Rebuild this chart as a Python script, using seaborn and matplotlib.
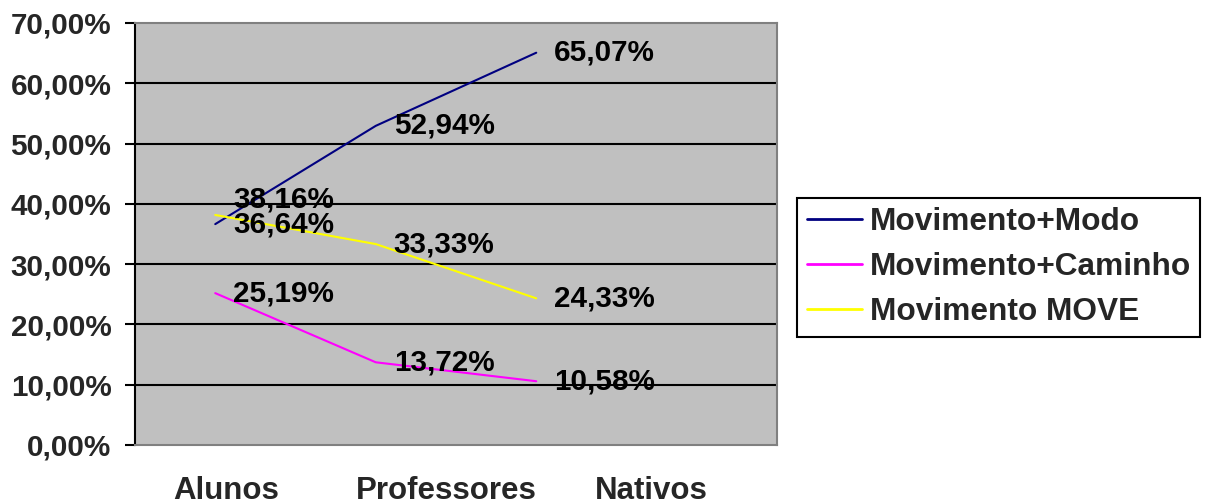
import matplotlib
matplotlib.use("Agg")
import matplotlib.pyplot as plt
import seaborn as sns
import pandas as pd

# Data
groups = ["Alunos", "Professores", "Nativos"]
series_names = ["Movimento+Modo", "Movimento+Caminho", "Movimento MOVE"]
modo = [36.64, 52.94, 65.07]
caminho = [25.19, 13.72, 10.58]
move = [38.16, 33.33, 24.33]
y_ticks = [0, 10, 20, 30, 40, 50, 60, 70]

colors = ["#000080", "#FF00FF", "#FFFF00"]

sns.set_theme(style="white")
plt.rcParams["font.family"] = ["Liberation Sans", "DejaVu Sans"]
plt.rcParams["font.weight"] = "bold"

rows = []
for name, vals in zip(series_names, [modo, caminho, move]):
    for i, v in enumerate(vals):
        rows.append({"pos": i, "group": groups[i], "serie": name, "valor": v})
df = pd.DataFrame(rows)

fig = plt.figure(figsize=(12.05, 4.99), dpi=100)
ax = fig.add_axes([135 / 1205, 54 / 499, 642 / 1205, 422 / 499])
ax.set_facecolor("#C0C0C0")

for yv in y_ticks[1:-1]:
    ax.axhline(yv, color="black", lw=1.5, zorder=1)

sns.lineplot(data=df, x="pos", y="valor", hue="serie", palette=colors,
             hue_order=series_names, lw=1.5, ax=ax, legend=False, zorder=3)

# value labels to the right of each point
for name, vals in zip(series_names, [modo, caminho, move]):
    for i, v in enumerate(vals):
        dy = 11 if (name == "Movimento MOVE" and i == 0) else 0
        ax.annotate(f"{v:.2f}%".replace(".", ","), (i, v),
                    xytext=(13, dy), textcoords="offset points",
                    ha="left", va="center", fontsize=21.3, fontweight="bold",
                    color="black", zorder=4)

ax.set_xlim(-0.5, 3.5)
ax.set_ylim(0, 70)
ax.set_yticks(y_ticks)
ax.set_yticklabels([f"{t:.2f}%".replace(".", ",") for t in y_ticks],
                   fontsize=21.3, fontweight="bold")
ax.set_xticks([0.07, 1.44, 2.72])
ax.set_xticklabels(groups, fontsize=22.5, fontweight="bold")
ax.tick_params(axis="x", length=0, pad=22)
ax.tick_params(axis="y", length=7, width=1.5, color="black", pad=10, left=True)
ax.set_xlabel("")
ax.set_ylabel("")

for side in ["top", "right", "bottom"]:
    ax.spines[side].set_color("#808080")
    ax.spines[side].set_linewidth(1.5)
ax.spines["left"].set_color("black")
ax.spines["left"].set_linewidth(1.5)

handles = [plt.Line2D([], [], color=c, lw=2) for c in colors]
leg = fig.legend(handles, series_names, loc="upper left",
                 bbox_to_anchor=(797 / 1205, 1 - 198 / 499),
                 prop={"size": 22.8, "weight": "bold"}, frameon=True,
                 fancybox=False, handlelength=1.74, handletextpad=0.25,
                 labelspacing=0.47, borderpad=0.3, borderaxespad=0)
leg.get_frame().set_edgecolor("black")
leg.get_frame().set_linewidth(1.5)
leg.get_frame().set_alpha(1)

fig.savefig("out.png", dpi=100)
